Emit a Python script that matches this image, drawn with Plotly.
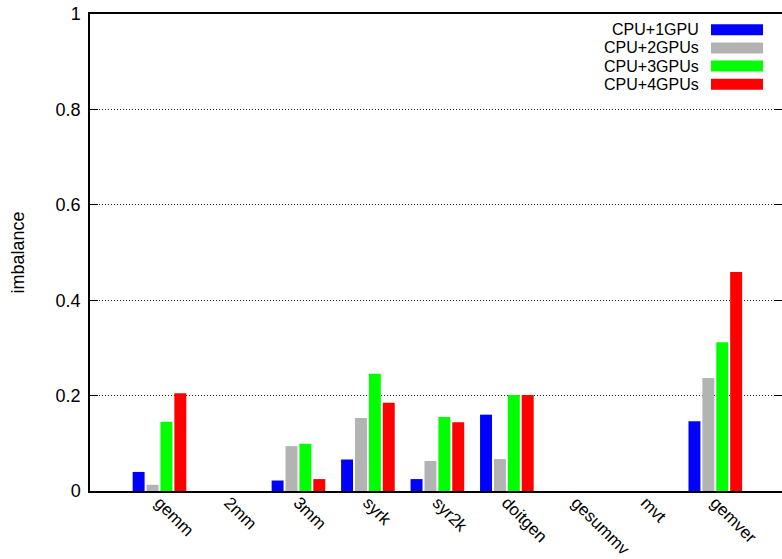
import plotly.graph_objects as go

# Benchmarks on the x axis
kernels = ["gemm", "2mm", "3mm", "syrk", "syr2k", "doitgen", "gesummv", "mvt", "gemver"]

# Load imbalance per configuration
cpu_1gpu = [0.040, 0.0, 0.022, 0.066, 0.025, 0.160, 0.0, 0.0, 0.146]
cpu_2gpus = [0.013, 0.0, 0.094, 0.153, 0.063, 0.067, 0.0, 0.0, 0.237]
cpu_3gpus = [0.145, 0.0, 0.099, 0.246, 0.155, 0.201, 0.0, 0.0, 0.312]
cpu_4gpus = [0.205, 0.0, 0.025, 0.185, 0.144, 0.201, 0.0, 0.0, 0.459]

series_names = ["CPU+1GPU", "CPU+2GPUs", "CPU+3GPUs", "CPU+4GPUs"]
series_values = [cpu_1gpu, cpu_2gpus, cpu_3gpus, cpu_4gpus]
series_colors = ["#0000ff", "#b3b3b3", "#00ff00", "#ff0000"]

y_ticks = [0, 0.2, 0.4, 0.6, 0.8, 1]
y_ticklabels = ["0", "0.2", "0.4", "0.6", "0.8", "1"]

W, H = 782, 559
ML, MR, MT, MB = 90, 0, 14, 68
PW = W - ML - MR
PH = H - MT - MB
FONT = "Liberation Sans, Arial, Helvetica, sans-serif"
FS = 18
FS_X = 17
FS_KEY = 16


def px_x(px):
    return (px - ML) / PW


def px_y(py):
    return 1 - (py - MT) / PH


fig = go.Figure()
for name, vals, col in zip(series_names, series_values, series_colors):
    fig.add_trace(go.Bar(
        x=kernels, y=vals, name=name,
        marker=dict(color=col, line=dict(width=0)),
        showlegend=False,
    ))

# Legend drawn as right-aligned text with a colour swatch to its right
shapes = []
annotations = []
row_y = [29.7, 47.9, 66.1, 84.3]
for name, col, ry in zip(series_names, series_colors, row_y):
    annotations.append(dict(
        x=px_x(700), y=px_y(ry), xref="paper", yref="paper",
        text=name, showarrow=False, xanchor="right", yanchor="middle",
        borderpad=0,
        font=dict(family=FONT, size=FS_KEY, color="black"),
    ))
    shapes.append(dict(
        type="rect", xref="paper", yref="paper",
        x0=px_x(711), x1=px_x(763), y0=px_y(ry - 5.5), y1=px_y(ry + 5.5),
        fillcolor=col, line=dict(width=0),
    ))

# Y axis title
annotations.append(dict(
    x=px_x(17), y=0.5, xref="paper", yref="paper",
    text="imbalance", showarrow=False, textangle=-90,
    xanchor="center", yanchor="middle",
    font=dict(family=FONT, size=FS, color="black"),
))

fig.update_layout(
    width=W, height=H,
    margin=dict(l=ML, r=MR, t=MT, b=MB, pad=0, autoexpand=False),
    paper_bgcolor="white", plot_bgcolor="white",
    font=dict(family=FONT, size=FS, color="black"),
    barmode="group", bargap=0.2, bargroupgap=0.14,
    shapes=shapes, annotations=annotations,
    showlegend=False,
)
fig.update_xaxes(
    type="category", range=[-1, 8.96], automargin=False,
    tickangle=45, ticks="", showgrid=False, ticklabelstandoff=-7,
    showline=True, linecolor="black", linewidth=2, mirror=True,
    tickfont=dict(family=FONT, size=FS_X, color="black"),
)
fig.update_yaxes(
    range=[0, 1], tickvals=y_ticks, ticktext=y_ticklabels, automargin=False,
    ticks="inside", ticklen=8, tickwidth=1, tickcolor="black",
    showline=True, linecolor="black", linewidth=1.5, mirror="ticks",
    showgrid=True, gridcolor="#222222", gridwidth=1, griddash="1px,2px",
    zeroline=False, ticklabelstandoff=4,
    tickfont=dict(family=FONT, size=FS, color="black"),
)

fig.write_html("out.html")
